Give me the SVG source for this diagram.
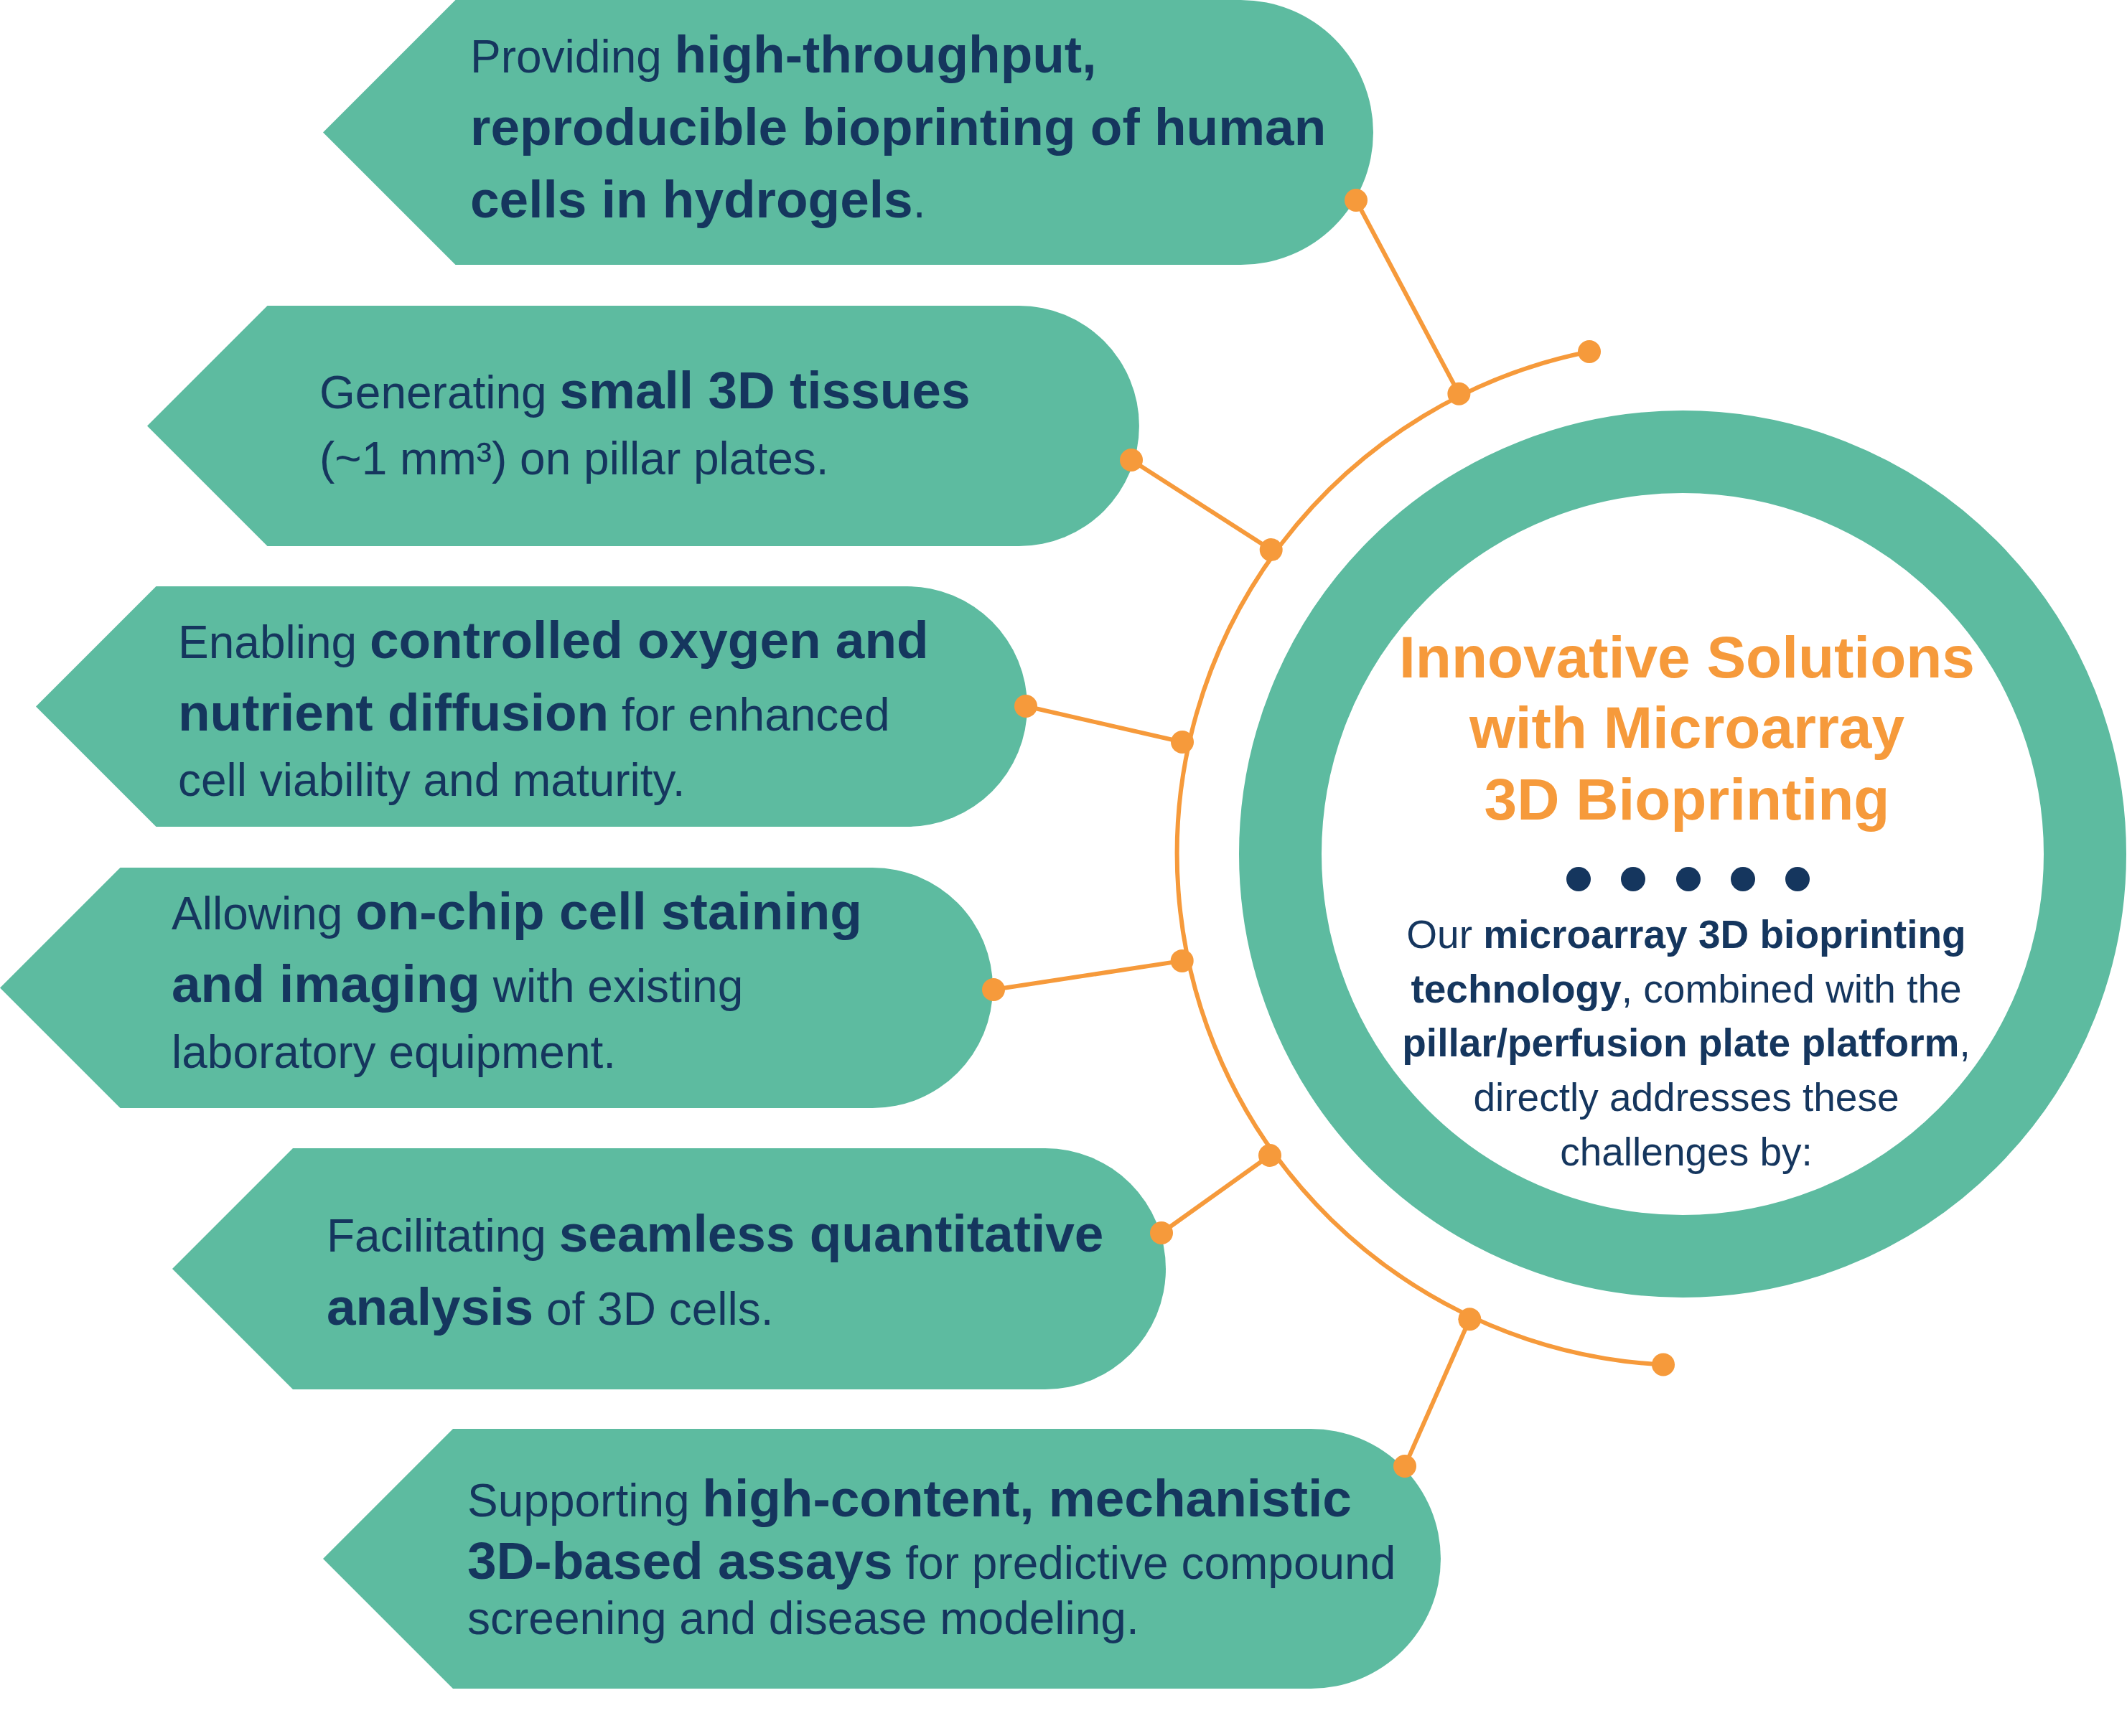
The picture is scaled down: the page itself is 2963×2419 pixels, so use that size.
<svg xmlns="http://www.w3.org/2000/svg" width="2963" height="2419" viewBox="0 0 2963 2419">
<style>
.box{fill:#5DBBA0}
.t{font-family:"Liberation Sans",Arial,Helvetica,sans-serif;font-size:64px;fill:#15365E}
.b{font-weight:bold;font-size:73px}
.c{font-family:"Liberation Sans",Arial,Helvetica,sans-serif;font-size:55px;fill:#15365E;text-anchor:middle}
.cb{font-weight:bold}
.title{font-family:"Liberation Sans",Arial,Helvetica,sans-serif;font-size:82px;font-weight:bold;fill:#F69A3B;text-anchor:middle}
.ln{stroke:#F69A3B;stroke-width:6;fill:none}
.dot{fill:#F69A3B}
.nd{fill:#15365E}
</style>
<rect width="2963" height="2419" fill="#FFFFFF"/>

<g id="box1">
<path class="box" d="M450 184.5 L634.5 0 H1728.5 A184.5 184.5 0 0 1 1728.5 369 H634.5 Z"/>
<text class="t" x="655" y="101">Providing <tspan class="b">high-throughput,</tspan></text>
<text class="t b" x="655" y="202">reproducible bioprinting of human</text>
<text class="t" x="655" y="303"><tspan class="b">cells in hydrogels</tspan>.</text>
</g>

<g id="box2">
<path class="box" d="M205 593.5 L372.5 426 H1419.5 A167.5 167.5 0 0 1 1419.5 761 H372.5 Z"/>
<text class="t" x="445" y="569">Generating <tspan class="b">small 3D tissues</tspan></text>
<text class="t" x="445" y="661">(~1 mm³) on pillar plates.</text>
</g>

<g id="box3">
<path class="box" d="M50 984.5 L217.5 817 H1263.5 A167.5 167.5 0 0 1 1263.5 1152 H217.5 Z"/>
<text class="t" x="248" y="917">Enabling <tspan class="b">controlled oxygen and</tspan></text>
<text class="t" x="248" y="1018"><tspan class="b">nutrient diffusion</tspan> for enhanced</text>
<text class="t" x="248" y="1109">cell viability and maturity.</text>
</g>

<g id="box4">
<path class="box" d="M0 1376.5 L167.5 1209 H1215.5 A167.5 167.5 0 0 1 1215.5 1544 H167.5 Z"/>
<text class="t" x="239" y="1295">Allowing <tspan class="b">on-chip cell staining</tspan></text>
<text class="t" x="239" y="1396"><tspan class="b">and imaging</tspan> with existing</text>
<text class="t" x="239" y="1488">laboratory equipment.</text>
</g>

<g id="box5">
<path class="box" d="M240 1768 L408 1600 H1456 A168 168 0 0 1 1456 1936 H408 Z"/>
<text class="t" x="455" y="1744">Facilitating <tspan class="b">seamless quantitative</tspan></text>
<text class="t" x="455" y="1846"><tspan class="b">analysis</tspan> of 3D cells.</text>
</g>

<g id="box6">
<path class="box" d="M450 2172 L631 1991 H1826 A181 181 0 0 1 1826 2353 H631 Z"/>
<text class="t" x="651" y="2113">Supporting <tspan class="b">high-content, mechanistic</tspan></text>
<text class="t" x="651" y="2200"><tspan class="b">3D-based assays</tspan> for predictive compound</text>
<text class="t" x="651" y="2277">screening and disease modeling.</text>
</g>

<g id="hub">
<circle cx="2344" cy="1190" r="560.5" fill="none" stroke="#5DBBA0" stroke-width="115"/>
<text class="title" x="2350" y="944">Innovative Solutions</text>
<text class="title" x="2350" y="1042">with Microarray</text>
<text class="title" x="2350" y="1142">3D Bioprinting</text>
<circle class="nd" cx="2199" cy="1225" r="17"/>
<circle class="nd" cx="2275" cy="1225" r="17"/>
<circle class="nd" cx="2352" cy="1225" r="17"/>
<circle class="nd" cx="2428" cy="1225" r="17"/>
<circle class="nd" cx="2504" cy="1225" r="17"/>
<text class="c" x="2349" y="1321">Our <tspan class="cb">microarray 3D bioprinting</tspan></text>
<text class="c" x="2349" y="1397"><tspan class="cb">technology</tspan>, combined with the</text>
<text class="c" x="2349" y="1472"><tspan class="cb">pillar/perfusion plate platform</tspan>,</text>
<text class="c" x="2349" y="1548">directly addresses these</text>
<text class="c" x="2349" y="1624">challenges by:</text>
</g>

<g id="connectors">
<path class="ln" d="M2214 490 A713 713 0 0 0 2317 1901.5"/>
<line class="ln" x1="1889" y1="279" x2="2032.4" y2="548.7"/>
<line class="ln" x1="1576" y1="641" x2="1770.7" y2="766.1"/>
<line class="ln" x1="1429" y1="984" x2="1647" y2="1034"/>
<line class="ln" x1="1384" y1="1379" x2="1646.7" y2="1338.9"/>
<line class="ln" x1="1618" y1="1718" x2="1769" y2="1610"/>
<line class="ln" x1="1957" y1="2043" x2="2047.3" y2="1838.3"/>
<circle class="dot" cx="2214" cy="490" r="16"/>
<circle class="dot" cx="2317" cy="1901.5" r="16"/>
<circle class="dot" cx="2032.4" cy="548.7" r="16"/>
<circle class="dot" cx="1770.7" cy="766.1" r="16"/>
<circle class="dot" cx="1647" cy="1034" r="16"/>
<circle class="dot" cx="1646.7" cy="1338.9" r="16"/>
<circle class="dot" cx="1769" cy="1610" r="16"/>
<circle class="dot" cx="2047.3" cy="1838.3" r="16"/>
<circle class="dot" cx="1889" cy="279" r="16"/>
<circle class="dot" cx="1576" cy="641" r="16"/>
<circle class="dot" cx="1429" cy="984" r="16"/>
<circle class="dot" cx="1384" cy="1379" r="16"/>
<circle class="dot" cx="1618" cy="1718" r="16"/>
<circle class="dot" cx="1957" cy="2043" r="16"/>
</g>
</svg>
